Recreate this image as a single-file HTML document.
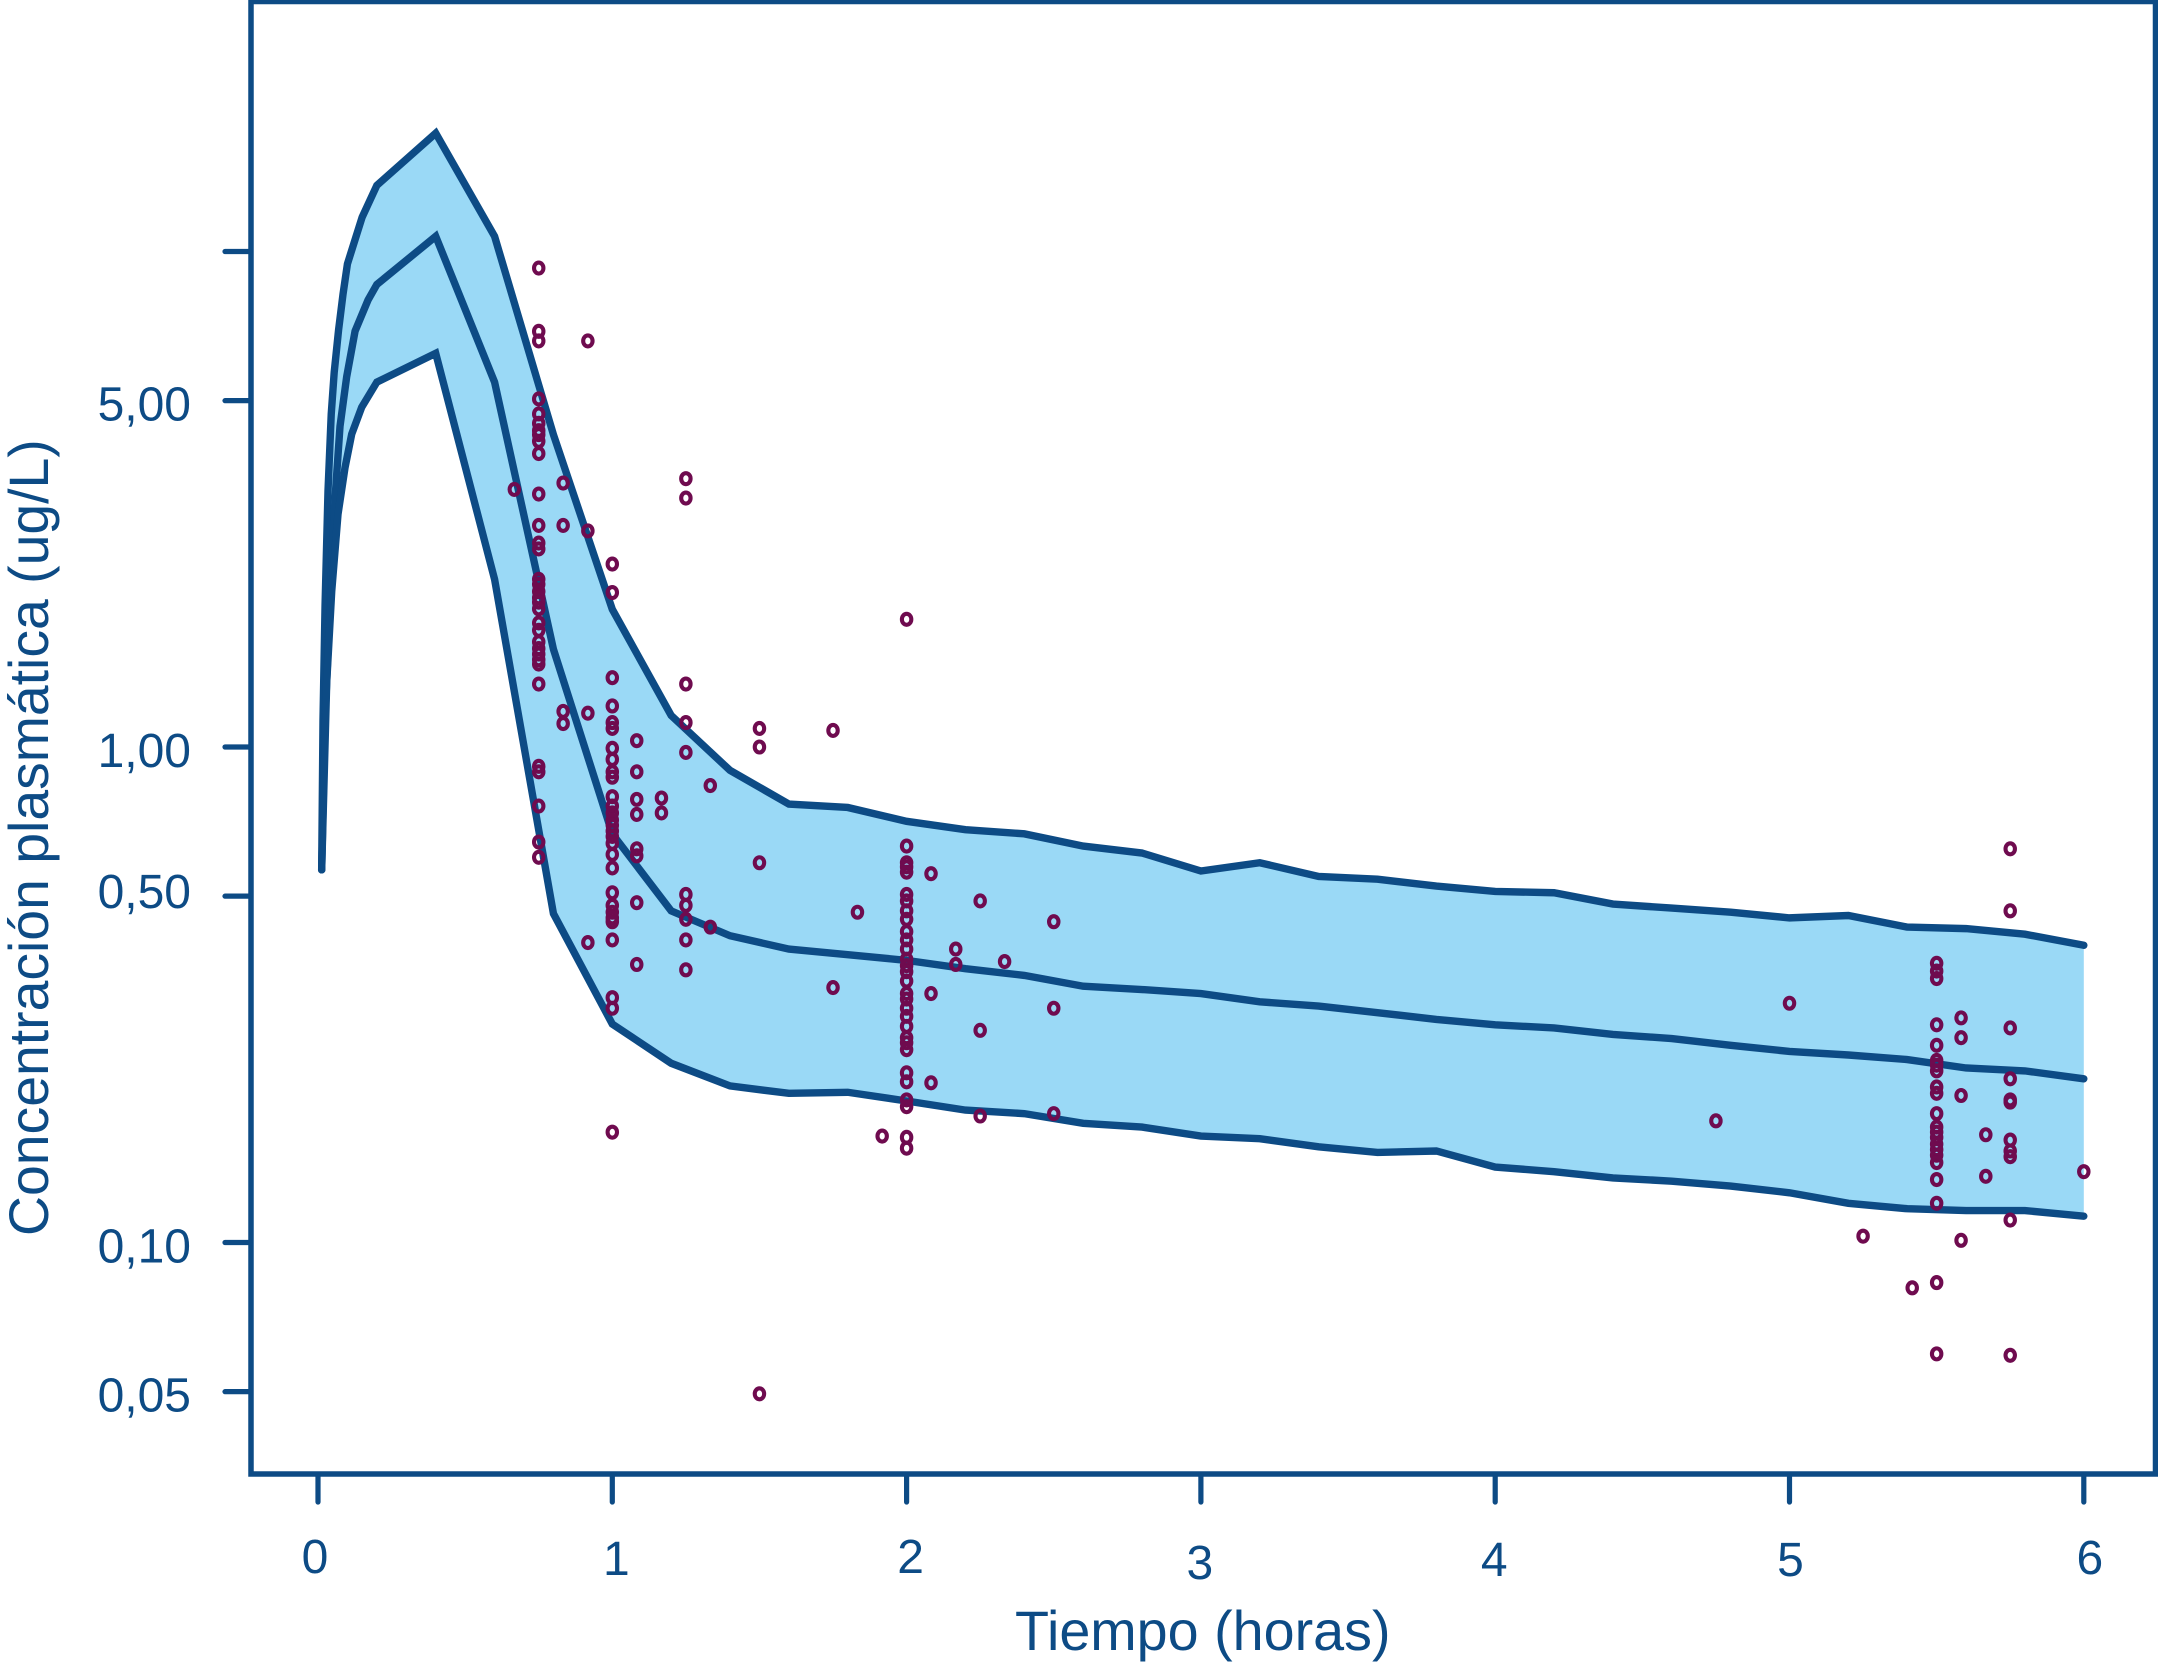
<!DOCTYPE html>
<html lang="es">
<head>
<meta charset="utf-8">
<title>Concentración plasmática</title>
<style>
html,body{margin:0;padding:0;background:#fff;}
svg{display:block;}
text{font-family:"Liberation Sans",Arial,sans-serif;fill:#0d4b85;}
</style>
</head>
<body>
<svg id="chart" xmlns="http://www.w3.org/2000/svg" width="2158" height="1677" viewBox="0 0 2158 1677">
  <rect x="0" y="0" width="2158" height="1677" fill="#ffffff"/>
  <g id="band"></g>
  <g id="lines"></g>
  <g id="points"></g>
  <rect x="251" y="1.5" width="1904.5" height="1472.5" fill="none" stroke="#0d4b85" stroke-width="5.5" stroke-linejoin="miter"/>
  <g id="axes"></g>
  <text x="1015" y="1650" font-size="55.7">Tiempo (horas)</text>
  <text transform="translate(48,1236) rotate(-90)" font-size="55.35">Concentración plasmática (ug/L)</text>
</svg>
<script>
// Percentile curve times (hours)
const upperTimes = [0.0125,0.017,0.024,0.034,0.045,0.055,0.07,0.085,0.1,0.15,0.2,0.4,0.6,0.8,1,1.2,1.4,1.6,1.8,2,2.2,2.4,2.6,2.8,3,3.2,3.4,3.6,3.8,4,4.2,4.4,4.6,4.8,5,5.2,5.4,5.6,5.8,6];
const medianTimes = [0.0125,0.0238,0.0408,0.0578,0.0748,0.0975,0.126,0.17,0.2,0.4,0.6,0.8,1,1.2,1.4,1.6,1.8,2,2.2,2.4,2.6,2.8,3,3.2,3.4,3.6,3.8,4,4.2,4.4,4.6,4.8,5,5.2,5.4,5.6,5.8,6];
const lowerTimes = [0.0125,0.0296,0.0466,0.068,0.0917,0.1145,0.1485,0.2,0.4,0.6,0.8,1,1.2,1.4,1.6,1.8,2,2.2,2.4,2.6,2.8,3,3.2,3.4,3.6,3.8,4,4.2,4.4,4.6,4.8,5,5.2,5.4,5.6,5.8,6];

// Percentile curve concentrations (ug/L)
const upperConc = [0.565,1.13,1.93,3.29,4.7,5.7,6.95,8.2,9.44,11.73,13.6,17.33,10.73,4.27,1.896,1.158,0.897,0.767,0.755,0.708,0.681,0.668,0.631,0.611,0.562,0.584,0.548,0.541,0.524,0.511,0.508,0.482,0.473,0.464,0.452,0.457,0.433,0.430,0.419,0.398];
const medianConc = [0.565,1.13,1.93,3.17,4.44,5.59,6.91,7.98,8.58,10.73,5.45,1.575,0.668,0.467,0.416,0.391,0.381,0.371,0.357,0.346,0.329,0.324,0.318,0.306,0.300,0.291,0.282,0.275,0.271,0.263,0.258,0.250,0.243,0.239,0.234,0.225,0.222,0.214];
const lowerConc = [0.565,1.35,2.06,2.95,3.66,4.28,4.85,5.45,6.23,2.18,0.461,0.276,0.230,0.207,0.200,0.201,0.193,0.185,0.182,0.174,0.171,0.164,0.162,0.156,0.152,0.153,0.142,0.139,0.135,0.133,0.130,0.126,0.120,0.117,0.116,0.116,0.113];

// Observations: sampling times and the concentrations measured at each
const obsTimes = [0.667,0.75,0.833,0.917,1,1.083,1.167,1.25,1.333,1.5,1.75,1.833,1.917,2,2.083,2.167,2.25,2.333,2.5,4.75,5,5.25,5.417,5.5,5.583,5.667,5.75,6];
const obsConc = [
  [3.31],
  [9.26,6.90,6.60,5.04,4.70,4.50,4.35,4.27,4.14,3.91,3.24,2.80,2.58,2.51,2.18,2.13,2.06,2.00,1.96,1.90,1.78,1.72,1.63,1.58,1.54,1.50,1.47,1.34,0.914,0.891,0.760,0.643,0.599],
  [3.41,2.80,1.18,1.115],
  [6.60,2.73,1.17,0.403],
  [2.34,2.05,1.38,1.21,1.12,1.09,0.994,0.944,0.891,0.869,0.794,0.760,0.736,0.712,0.695,0.677,0.660,0.639,0.607,0.570,0.508,0.479,0.464,0.452,0.444,0.408,0.312,0.297,0.167],
  [1.03,0.891,0.784,0.731,0.623,0.603,0.485,0.364],
  [0.789,0.736],
  [3.48,3.18,1.34,1.12,0.975,0.504,0.479,0.449,0.408,0.355],
  [0.836,0.433],
  [1.09,1.00,0.584,0.0495],
  [1.08,0.327],
  [0.464],
  [0.164],
  [1.81,0.631,0.584,0.573,0.559,0.504,0.489,0.467,0.449,0.424,0.408,0.391,0.373,0.362,0.352,0.337,0.318,0.310,0.297,0.286,0.273,0.259,0.253,0.245,0.220,0.211,0.194,0.188,0.163,0.155],
  [0.555,0.318,0.210],
  [0.391,0.364],
  [0.489,0.268,0.180],
  [0.369],
  [0.444,0.297,0.182],
  [0.176],
  [0.304],
  [0.103],
  [0.081],
  [0.366,0.353,0.341,0.275,0.250,0.233,0.228,0.222,0.206,0.200,0.182,0.171,0.167,0.163,0.158,0.154,0.150,0.145,0.134,0.120,0.083,0.0596],
  [0.284,0.259,0.198,0.101],
  [0.165,0.136],
  [0.623,0.467,0.271,0.214,0.194,0.192,0.161,0.153,0.149,0.111,0.0592],
  [0.139]
];

// Axis ticks
const xTicks = [0,1,2,3,4,5,6];
const xTickLabels = ['0','1','2','3','4','5','6'];
const yTicks = [10,5,1,0.5,0.1,0.05];
const yTickLabels = ['','5,00','1,00','0,50','0,10','0,05'];

// Hand-placed label offsets seen in the source figure
const xLabelDx = [-3,4,4,-1,-1,1,6];
const xLabelBase = [1573,1575,1573,1579,1576,1576,1574];
const yLabelDy = [0,20,20,12,20,20];

const NS = 'http://www.w3.org/2000/svg';
const INK = '#0d4b85';

function xScale(t){ return 318 + 294.3 * t; }
function yScale(v){ return 747 - 495.5 * Math.log10(v); }

function pathFor(times, values){
  return times.map(function(t, i){
    return (i ? 'L' : 'M') + xScale(t).toFixed(2) + ' ' + yScale(values[i]).toFixed(2);
  }).join(' ');
}

// Band between the outer percentiles
const bandGroup = document.getElementById('band');
const bandEl = document.createElementNS(NS, 'path');
const revTimes = lowerTimes.slice().reverse();
const revLower = lowerConc.slice().reverse();
const bandBack = revTimes.map(function(t, i){
  return 'L' + xScale(t).toFixed(2) + ' ' + yScale(revLower[i]).toFixed(2);
}).join(' ');
bandEl.setAttribute('d', pathFor(upperTimes, upperConc) + ' ' + bandBack + ' Z');
bandEl.setAttribute('fill', '#9ad9f6');


bandGroup.appendChild(bandEl);

// Percentile lines
const lineGroup = document.getElementById('lines');
function addLine(times, values){
  const el = document.createElementNS(NS, 'path');
  el.setAttribute('d', pathFor(times, values));
  el.setAttribute('fill', 'none');
  el.setAttribute('stroke', INK);
  el.setAttribute('stroke-width', '7.4');
  el.setAttribute('stroke-linejoin', 'miter');
  el.setAttribute('stroke-miterlimit', '8');
  el.setAttribute('stroke-linecap', 'round');
  lineGroup.appendChild(el);
  return el;
}
const upperLine = addLine(upperTimes, upperConc);


const medianLine = addLine(medianTimes, medianConc);


const lowerLine = addLine(lowerTimes, lowerConc);



// Observed points
const pointGroup = document.getElementById('points');
obsTimes.forEach(function(t, i){
  obsConc[i].forEach(function(v){
    const dot = document.createElementNS(NS, 'ellipse');
    dot.setAttribute('cx', xScale(t).toFixed(2));
    dot.setAttribute('cy', yScale(v).toFixed(2));
    dot.setAttribute('rx', '4.7');
    dot.setAttribute('ry', '5.5');
    dot.setAttribute('fill', 'none');
    dot.setAttribute('stroke', '#6f0b4f');
    dot.setAttribute('stroke-width', '4.1');
    
    
    pointGroup.appendChild(dot);
  });
});

// Axes
const axesGroup = document.getElementById('axes');
function tickLine(x1, y1, x2, y2){
  const el = document.createElementNS(NS, 'line');
  el.setAttribute('x1', x1);
  el.setAttribute('y1', y1);
  el.setAttribute('x2', x2);
  el.setAttribute('y2', y2);
  el.setAttribute('stroke', INK);
  el.setAttribute('stroke-width', '5.2');
  el.setAttribute('stroke-linecap', 'round');
  axesGroup.appendChild(el);
  return el;
}
xTicks.forEach(function(t, i){
  const x = xScale(t);
  const mark = tickLine(x, 1476, x, 1502);
  
  
  const label = document.createElementNS(NS, 'text');
  label.setAttribute('x', x + xLabelDx[i]);
  label.setAttribute('y', xLabelBase[i]);
  label.setAttribute('font-size', '48');
  label.setAttribute('text-anchor', 'middle');
  
  
  label.textContent = xTickLabels[i];
  axesGroup.appendChild(label);
});
yTicks.forEach(function(v, i){
  const y = yScale(v);
  const mark = tickLine(225, y, 250, y);
  
  
  if (yTickLabels[i]) {
    const label = document.createElementNS(NS, 'text');
    label.setAttribute('x', 191);
    label.setAttribute('y', y + yLabelDy[i]);
    label.setAttribute('font-size', '48');
    label.setAttribute('text-anchor', 'end');
    
    
    label.textContent = yTickLabels[i];
    axesGroup.appendChild(label);
  }
});
</script>
</body>
</html>
